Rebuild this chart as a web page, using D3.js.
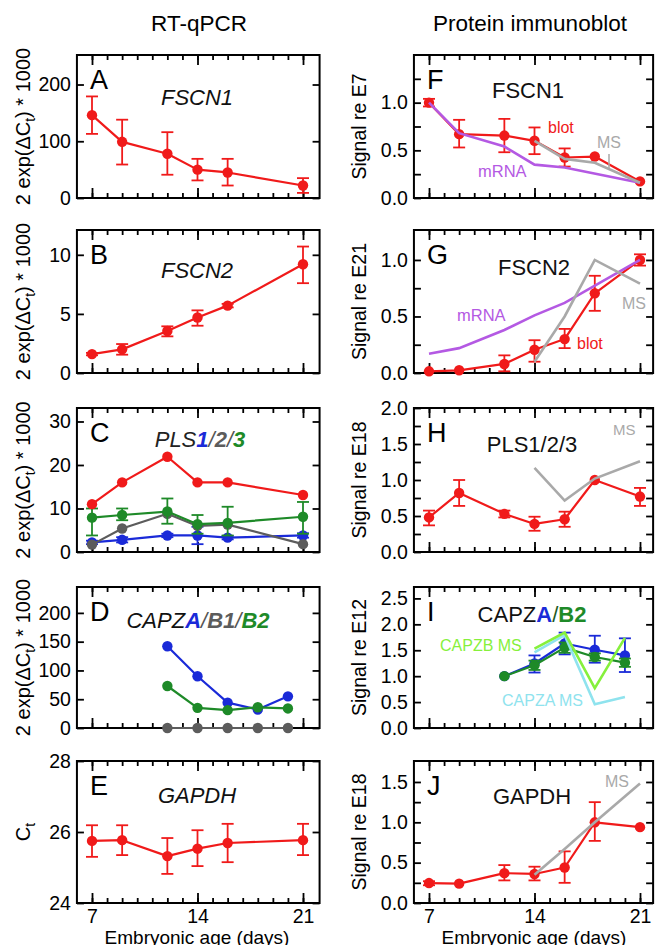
<!DOCTYPE html>
<html>
<head>
<meta charset="utf-8">
<script src="https://cdn.jsdelivr.net/npm/d3@7"></script>
<style>
  body { margin: 0; background: #fff; }
  svg { display: block; font-family: "Liberation Sans", Arial, sans-serif; }
</style>
</head>
<body>
<div id="wrapper"></div>
<script>
// ---- data ----

const qpcrDays = [7, 9, 12, 14, 16, 21];
const blotDays = [7, 9, 12, 14, 16, 18, 21];
const msDays = [14, 16, 18, 21];
const capDays = [12, 14, 16, 18, 20];
const capMsDays = [14, 16, 18, 20];

// A: FSCN1 mRNA
const fscn1Mrna = [146, 99, 78, 50, 45, 22];
const fscn1MrnaLo = [113, 59, 41, 31, 22, 9];
const fscn1MrnaHi = [179, 138, 116, 69, 69, 35];

// B: FSCN2 mRNA
const fscn2Mrna = [1.6, 2.0, 3.55, 4.7, 5.7, 9.2];
const fscn2MrnaLo = [1.5, 1.55, 3.1, 4.0, 5.55, 7.6];
const fscn2MrnaHi = [1.7, 2.45, 3.95, 5.3, 5.85, 10.7];

// C: PLS mRNA
const plsTotal = [11.0, 16.0, 21.9, 16.0, 16.0, 13.1];
const pls3 = [7.9, 8.5, 9.3, 6.4, 6.7, 8.1];
const pls3Lo = [3.8, 7.3, 6.5, 4.2, 3.8, 4.2];
const pls3Hi = [10.0, 10.0, 12.3, 8.5, 10.4, 11.5];
const pls2 = [1.7, 5.4, 8.8, 6.0, 6.3, 1.8];
const pls1 = [2.2, 2.8, 3.8, 3.8, 3.3, 3.8];
const pls1Lo = [1.8, 2.2, 3.4, 1.8, 2.9, 3.3];
const pls1Hi = [2.6, 3.4, 4.2, 5.8, 3.7, 4.3];

// D: CAPZ mRNA
const capzaMrna = [142, 90, 44, 32, 55];
const capzb2Mrna = [73, 35, 31, 36, 34];
const capzb1Mrna = [0, 0, 0, 0, 0];

// E: GAPDH Ct
const gapdhCt = [25.75, 25.77, 25.32, 25.53, 25.69, 25.77];
const gapdhCtLo = [25.3, 25.35, 24.82, 25.04, 25.15, 25.35];
const gapdhCtHi = [26.19, 26.19, 25.83, 26.05, 26.23, 26.23];

// F: FSCN1 protein
const fscn1Blot = [1.0, 0.67, 0.655, 0.6, 0.425, 0.435, 0.174];
const fscn1BlotLo = [0.96, 0.53, 0.48, 0.46, 0.33, null, null];
const fscn1BlotHi = [1.04, 0.82, 0.83, 0.74, 0.52, null, null];
const fscn1MrnaRel = [1.0, 0.68, 0.54, 0.35, 0.32, 0.16];
const fscn1Ms = [0.6, 0.41, 0.37, 0.16];

// G: FSCN2 protein
const fscn2Blot = [0.015, 0.024, 0.08, 0.206, 0.3, 0.705, 1.0];
const fscn2BlotLo = [null, null, 0.015, 0.1, 0.22, 0.55, 0.95];
const fscn2BlotHi = [null, null, 0.156, 0.29, 0.39, 0.86, 1.05];
const fscn2MrnaRel = [0.17, 0.22, 0.38, 0.51, 0.62, 1.0];
const fscn2Ms = [0.1, 0.5, 1.0, 0.79];

// H: PLS protein
const plsBlot = [0.48, 0.82, 0.53, 0.39, 0.455, 1.0, 0.77];
const plsBlotLo = [0.37, 0.64, 0.48, 0.295, 0.35, null, 0.64];
const plsBlotHi = [0.575, 1.0, 0.575, 0.49, 0.56, null, 0.89];
const plsMs = [1.17, 0.715, 1.02, 1.26];

// I: CAPZ protein
const capzaBlot = [1.0, 1.245, 1.63, 1.51, 1.4];
const capzaBlotLo = [null, 1.07, 1.42, 1.26, 1.08];
const capzaBlotHi = [null, 1.4, 1.84, 1.78, 1.73];
const capzb2Blot = [1.0, 1.21, 1.55, 1.37, 1.26];
const capzb2BlotLo = [null, 1.12, 1.45, 1.3, 1.18];
const capzb2BlotHi = [null, 1.3, 1.65, 1.44, 1.34];
const capzbMs = [1.53, 1.84, 0.77, 1.74];
const capzaMs = [1.46, 1.79, 0.46, 0.6];

// J: GAPDH protein
const gapdhBlot = [0.247, 0.24, 0.37, 0.36, 0.44, 1.0, 0.94];
const gapdhBlotLo = [0.22, null, 0.28, 0.28, 0.25, 0.77, null];
const gapdhBlotHi = [0.27, null, 0.47, 0.45, 0.64, 1.25, null];
const gapdhMs = [0.35, 0.67, 1.0, 1.48];

// ---- colours ----
const red = "#f01a1a";
const blue = "#1a2ad8";
const green = "#1e8a28";
const darkGray = "#5c5c5c";
const msGray = "#a9a9a9";
const purple = "#b459e3";
const lime = "#86f03c";
const cyan = "#8fe3ee";

// ---- canvas ----
const width = 655;
const height = 945;

const svg = d3.select("#wrapper")
  .append("svg")
    .attr("width", width)
    .attr("height", height);

const columns = {
  left: { range: [92, 303], xEnd: 22.1, labelX: 30, axisCenter: 197 },
  right: { range: [429, 640], xEnd: 21.87, labelX: 366, axisCenter: 534 },
};

svg.append("text")
    .attr("x", 199).attr("y", 31)
    .attr("text-anchor", "middle")
    .attr("font-size", 22.5)
    .text("RT-qPCR");
svg.append("text")
    .attr("x", 530).attr("y", 31)
    .attr("text-anchor", "middle")
    .attr("font-size", 22.5)
    .text("Protein immunoblot");

function styleAxis(sel) {
  sel.attr("font-family", null).attr("font-size", 19.5);
  sel.select(".domain").remove();
  sel.selectAll("line").attr("stroke", "#000").attr("stroke-width", 1.8);
}

function drawPanel(p) {
  const col = columns[p.col];
  const x = d3.scaleLinear().domain([7, 21]).range(col.range);
  const y = d3.scaleLinear().domain(p.yDomain).range([p.bottom, p.top]);
  const g = svg.append("g");
  const left = x(6);
  const right = x(col.xEnd);

  // x ticks, top and bottom, pointing inward
  const minorDays = d3.range(7, 22);
  const majorDays = [7, 14, 21];
  g.append("g").attr("transform", `translate(0,${p.bottom})`)
    .call(d3.axisBottom(x).tickValues(minorDays).tickSize(-5).tickFormat(""))
    .call(styleAxis);
  g.append("g").attr("transform", `translate(0,${p.bottom})`)
    .call(d3.axisBottom(x).tickValues(majorDays).tickSize(-10).tickPadding(6)
      .tickFormat(p.xLabels ? d3.format("d") : ""))
    .call(styleAxis);
  g.append("g").attr("transform", `translate(0,${p.top})`)
    .call(d3.axisTop(x).tickValues(minorDays).tickSize(-5).tickFormat(""))
    .call(styleAxis);
  g.append("g").attr("transform", `translate(0,${p.top})`)
    .call(d3.axisTop(x).tickValues(majorDays).tickSize(-10).tickFormat(""))
    .call(styleAxis);

  // y ticks, left (labelled) and right
  g.append("g").attr("transform", `translate(${left},0)`)
    .call(d3.axisLeft(y).tickValues(p.yTicks).tickSize(-7).tickPadding(6).tickFormat(p.yFormat))
    .call(styleAxis);
  g.append("g").attr("transform", `translate(${right},0)`)
    .call(d3.axisRight(y).tickValues(p.yTicks).tickSize(-7).tickFormat(""))
    .call(styleAxis);
  if (p.yMinor) {
    g.append("g").attr("transform", `translate(${left},0)`)
      .call(d3.axisLeft(y).tickValues(p.yMinor).tickSize(-7).tickFormat(""))
      .call(styleAxis);
    g.append("g").attr("transform", `translate(${right},0)`)
      .call(d3.axisRight(y).tickValues(p.yMinor).tickSize(-7).tickFormat(""))
      .call(styleAxis);
  }

  // frame
  g.append("rect")
      .attr("x", left)
      .attr("y", p.top)
      .attr("width", right - left)
      .attr("height", p.bottom - p.top)
      .attr("fill", "none")
      .attr("stroke", "#000")
      .attr("stroke-width", 2);

  // data
  p.series.forEach(s => {
    const pts = s.days.map((d, i) => ({
      d: d,
      v: s.values[i],
      lo: s.lo ? s.lo[i] : null,
      hi: s.hi ? s.hi[i] : null,
    }));
    const line = d3.line().x(d => x(d.d)).y(d => y(d.v));
    g.append("path")
        .datum(pts)
        .attr("d", line)
        .attr("fill", "none")
        .attr("stroke", s.color)
        .attr("stroke-width", s.width || 2.2)
        .attr("stroke-linejoin", "round");
    if (!s.dots) return;
    const bars = pts.filter(d => d.lo != null);
    const eb = g.append("g").attr("stroke", s.color).attr("stroke-width", 1.8);
    eb.selectAll(".stem").data(bars).join("line")
        .attr("x1", d => x(d.d)).attr("x2", d => x(d.d))
        .attr("y1", d => y(d.lo)).attr("y2", d => y(d.hi));
    eb.selectAll(".capLo").data(bars).join("line")
        .attr("x1", d => x(d.d) - 6).attr("x2", d => x(d.d) + 6)
        .attr("y1", d => y(d.lo)).attr("y2", d => y(d.lo));
    eb.selectAll(".capHi").data(bars).join("line")
        .attr("x1", d => x(d.d) - 6).attr("x2", d => x(d.d) + 6)
        .attr("y1", d => y(d.hi)).attr("y2", d => y(d.hi));
    g.append("g").selectAll("circle").data(pts).join("circle")
        .attr("cx", d => x(d.d))
        .attr("cy", d => y(d.v))
        .attr("r", 5.2)
        .attr("fill", s.color);
  });

  (p.overlays || []).forEach(s => {
    g.append("path")
        .datum(s.days.map((d, i) => [d, s.values[i]]))
        .attr("d", d3.line().x(d => x(d[0])).y(d => y(d[1])))
        .attr("fill", "none")
        .attr("stroke", s.color)
        .attr("stroke-width", 2.6);
  });

  // panel letter
  g.append("text")
      .attr("x", col.range[0] - 2)
      .attr("y", p.top + 34)
      .attr("font-size", 27)
      .text(p.letter);

  // gene title
  const title = g.append("text")
      .attr("x", p.titleX)
      .attr("y", p.titleY)
      .attr("text-anchor", "middle")
      .attr("font-size", 22)
      .attr("font-style", p.italic ? "italic" : null);
  p.title.forEach(seg => {
    title.append("tspan")
        .attr("fill", seg.color || "#111")
        .attr("font-weight", seg.bold ? "bold" : null)
        .text(seg.t);
  });

  // series notes
  (p.notes || []).forEach(n => {
    g.append("text")
        .attr("x", n.x).attr("y", n.y)
        .attr("fill", n.color)
        .attr("font-size", n.size || 16)
        .text(n.t);
  });
  (p.leaders || []).forEach(l => {
    g.append("line")
        .attr("x1", l[0]).attr("y1", l[1]).attr("x2", l[2]).attr("y2", l[3])
        .attr("stroke", msGray).attr("stroke-width", 1.5);
  });

  // y label
  const yl = g.append("text")
      .attr("transform", `translate(${col.labelX},${(p.top + p.bottom) / 2}) rotate(-90)`)
      .attr("text-anchor", "middle")
      .attr("font-size", p.col === "left" ? 20 : 19.5);
  p.yLabel.forEach(seg => {
    yl.append("tspan")
        .attr("font-size", seg.sub ? 14 : null)
        .attr("dy", seg.dy || 0)
        .text(seg.t);
  });

  if (p.xLabels) {
    g.append("text")
        .attr("x", col.axisCenter)
        .attr("y", 944)
        .attr("text-anchor", "middle")
        .attr("font-size", 19)
        .text("Embryonic age (days)");
  }
}

const qLabel = [{ t: "2 exp(ΔC" }, { t: "t", sub: true, dy: 5 }, { t: ") * 1000", dy: -5 }];
const sig = t => [{ t: t }];
const fmt1 = d3.format(".1f");

const rows = [
  { top: 55, bottom: 198 },
  { top: 230, bottom: 373 },
  { top: 408, bottom: 552 },
  { top: 587, bottom: 728 },
  { top: 761, bottom: 903 },
];

drawPanel({
  col: "left", ...rows[0], yDomain: [0, 252], yTicks: [0, 100, 200], yFormat: d3.format("d"),
  letter: "A", italic: true, titleX: 197, titleY: 105, title: [{ t: "FSCN1" }],
  yLabel: qLabel,
  series: [{ days: qpcrDays, values: fscn1Mrna, lo: fscn1MrnaLo, hi: fscn1MrnaHi, color: red, dots: true }],
});

drawPanel({
  col: "left", ...rows[1], yDomain: [0, 12.1], yTicks: [0, 5, 10], yFormat: d3.format("d"),
  letter: "B", italic: true, titleX: 197, titleY: 278, title: [{ t: "FSCN2" }],
  yLabel: qLabel,
  series: [{ days: qpcrDays, values: fscn2Mrna, lo: fscn2MrnaLo, hi: fscn2MrnaHi, color: red, dots: true }],
});

drawPanel({
  col: "left", ...rows[2], yDomain: [0, 33.1], yTicks: [0, 10, 20, 30], yFormat: d3.format("d"),
  letter: "C", italic: true, titleX: 200, titleY: 447,
  title: [
    { t: "PLS", color: "#222" }, { t: "1", color: blue, bold: true }, { t: "/", color: "#555" },
    { t: "2", color: darkGray, bold: true }, { t: "/", color: "#555" }, { t: "3", color: green, bold: true },
  ],
  yLabel: qLabel,
  series: [
    { days: qpcrDays, values: pls1, lo: pls1Lo, hi: pls1Hi, color: blue, dots: true },
    { days: qpcrDays, values: pls2, color: darkGray, dots: true },
    { days: qpcrDays, values: pls3, lo: pls3Lo, hi: pls3Hi, color: green, dots: true },
    { days: qpcrDays, values: plsTotal, color: red, dots: true },
  ],
});

drawPanel({
  col: "left", ...rows[3], yDomain: [0, 245], yTicks: [0, 50, 100, 150, 200], yFormat: d3.format("d"),
  letter: "D", italic: true, titleX: 198, titleY: 628,
  title: [
    { t: "CAPZ", color: "#111" }, { t: "A", color: blue, bold: true }, { t: "/", color: "#555" },
    { t: "B1", color: darkGray, bold: true }, { t: "/", color: "#555" }, { t: "B2", color: green, bold: true },
  ],
  yLabel: qLabel,
  series: [
    { days: capDays, values: capzb1Mrna, color: darkGray, dots: true },
    { days: capDays, values: capzaMrna, color: blue, dots: true },
    { days: capDays, values: capzb2Mrna, color: green, dots: true },
  ],
});

drawPanel({
  col: "left", ...rows[4], yDomain: [24, 28], yTicks: [24, 26, 28], yFormat: d3.format("d"),
  letter: "E", italic: true, titleX: 197, titleY: 803, title: [{ t: "GAPDH" }],
  yLabel: [{ t: "C" }, { t: "t", sub: true, dy: 5 }], xLabels: true,
  series: [{ days: qpcrDays, values: gapdhCt, lo: gapdhCtLo, hi: gapdhCtHi, color: red, dots: true }],
});

drawPanel({
  col: "right", ...rows[0], yDomain: [0, 1.5], yTicks: [0, 0.5, 1.0], yMinor: [0.25, 0.75, 1.25], yFormat: fmt1,
  letter: "F", titleX: 528, titleY: 98, title: [{ t: "FSCN1" }],
  yLabel: sig("Signal re E7"),
  series: [{ days: blotDays, values: fscn1Blot, lo: fscn1BlotLo, hi: fscn1BlotHi, color: red, dots: true }],
  overlays: [
    { days: qpcrDays, values: fscn1MrnaRel, color: purple },
    { days: msDays, values: fscn1Ms, color: msGray },
  ],
  notes: [
    { t: "blot", x: 548, y: 133, color: red },
    { t: "MS", x: 597, y: 148, color: msGray },
    { t: "mRNA", x: 478, y: 177, color: purple, size: 16.5 },
  ],
  leaders: [[609, 154, 609, 170]],
});

drawPanel({
  col: "right", ...rows[1], yDomain: [0, 1.265], yTicks: [0, 0.5, 1.0], yMinor: [0.25, 0.75], yFormat: fmt1,
  letter: "G", titleX: 534, titleY: 275, title: [{ t: "FSCN2" }],
  yLabel: sig("Signal re E21"),
  series: [{ days: blotDays, values: fscn2Blot, lo: fscn2BlotLo, hi: fscn2BlotHi, color: red, dots: true }],
  overlays: [
    { days: qpcrDays, values: fscn2MrnaRel, color: purple },
    { days: msDays, values: fscn2Ms, color: msGray },
  ],
  notes: [
    { t: "mRNA", x: 457, y: 321, color: purple, size: 16.5 },
    { t: "blot", x: 577, y: 349, color: red },
    { t: "MS", x: 622, y: 309, color: msGray },
  ],
});

drawPanel({
  col: "right", ...rows[2], yDomain: [0, 2.0], yTicks: [0, 0.5, 1.0, 1.5, 2.0], yMinor: [0.25, 0.75, 1.25, 1.75], yFormat: fmt1,
  letter: "H", titleX: 532, titleY: 452, title: [{ t: "PLS1/2/3" }],
  yLabel: sig("Signal re E18"),
  series: [{ days: blotDays, values: plsBlot, lo: plsBlotLo, hi: plsBlotHi, color: red, dots: true }],
  overlays: [{ days: msDays, values: plsMs, color: msGray }],
  notes: [{ t: "MS", x: 613, y: 435, color: msGray, size: 15 }],
});

drawPanel({
  col: "right", ...rows[3], yDomain: [0, 2.72], yTicks: [0, 0.5, 1.0, 1.5, 2.0, 2.5], yFormat: fmt1,
  letter: "I", titleX: 532, titleY: 622,
  title: [{ t: "CAPZ", color: "#111" }, { t: "A", color: blue, bold: true }, { t: "/", color: "#1e5a24" }, { t: "B2", color: green, bold: true }],
  yLabel: sig("Signal re E12"),
  series: [
    { days: capDays, values: capzaBlot, lo: capzaBlotLo, hi: capzaBlotHi, color: blue, dots: true },
    { days: capDays, values: capzb2Blot, lo: capzb2BlotLo, hi: capzb2BlotHi, color: green, dots: true },
  ],
  overlays: [
    { days: capMsDays, values: capzaMs, color: cyan },
    { days: capMsDays, values: capzbMs, color: lime },
  ],
  notes: [
    { t: "CAPZB MS", x: 440, y: 651, color: lime },
    { t: "CAPZA MS", x: 502, y: 706, color: cyan },
  ],
});

drawPanel({
  col: "right", ...rows[4], yDomain: [0, 1.76], yTicks: [0, 0.5, 1.0, 1.5], yMinor: [0.25, 0.75, 1.25], yFormat: fmt1,
  letter: "J", titleX: 532, titleY: 804, title: [{ t: "GAPDH" }],
  yLabel: sig("Signal re E18"), xLabels: true,
  series: [{ days: blotDays, values: gapdhBlot, lo: gapdhBlotLo, hi: gapdhBlotHi, color: red, dots: true }],
  overlays: [{ days: msDays, values: gapdhMs, color: msGray }],
  notes: [{ t: "MS", x: 605, y: 787, color: msGray }],
});
</script>
</body>
</html>
